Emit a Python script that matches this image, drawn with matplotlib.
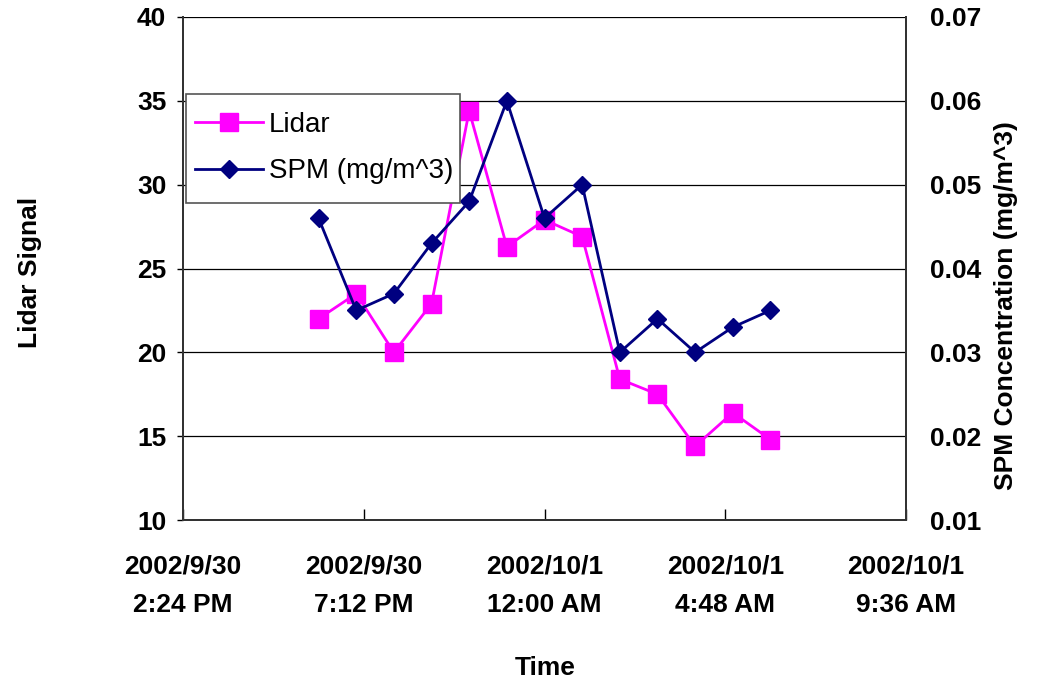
import matplotlib
matplotlib.use("Agg")
import matplotlib.pyplot as plt
from matplotlib.patches import Rectangle
import pandas as pd

plt.rcParams['font.family'] = ['Liberation Sans', 'DejaVu Sans']
plt.rcParams['font.weight'] = 'bold'

# hourly samples, evening of 2002/9/30 to morning of 2002/10/1
times = pd.to_datetime([
    '2002-09-30 18:00', '2002-09-30 19:00', '2002-09-30 20:00',
    '2002-09-30 21:00', '2002-09-30 22:00', '2002-09-30 23:00',
    '2002-10-01 00:00', '2002-10-01 01:00', '2002-10-01 02:00',
    '2002-10-01 03:00', '2002-10-01 04:00', '2002-10-01 05:00',
    '2002-10-01 06:00',
])
lidar = [22.0, 23.5, 20.0, 22.9, 34.4, 26.3, 27.9, 26.9, 18.4, 17.5, 14.4, 16.4, 14.8]
spm = [0.046, 0.035, 0.037, 0.043, 0.048, 0.060, 0.046, 0.050, 0.030, 0.034, 0.030, 0.033, 0.035]

tick_times = pd.to_datetime([
    '2002-09-30 14:24', '2002-09-30 19:12', '2002-10-01 00:00',
    '2002-10-01 04:48', '2002-10-01 09:36',
])
tick_labels = ['2002/9/30\n2:24 PM', '2002/9/30\n7:12 PM', '2002/10/1\n12:00 AM',
               '2002/10/1\n4:48 AM', '2002/10/1\n9:36 AM']
left_ticks = [10, 15, 20, 25, 30, 35, 40]
right_ticks = [0.01, 0.02, 0.03, 0.04, 0.05, 0.06, 0.07]

fs = 19

fig = plt.figure(figsize=(10.37, 6.85), dpi=100)
ax = fig.add_axes([183 / 1037, 1 - 520 / 685, 723 / 1037, 503 / 685])
ax2 = ax.twinx()

ax.plot(times, lidar, color='#FF00FF', lw=2, marker='s', ms=12.5,
        mec='#FF00FF', mfc='#FF00FF', label='Lidar', zorder=3)
ax2.plot(times, spm, color='#000080', lw=2, marker='D', ms=9.5,
         mec='#000080', mfc='#000080', label='SPM (mg/m^3)', zorder=3)

ax.set_xlim(tick_times[0], tick_times[-1])
ax.set_xticks(tick_times)
ax.set_xticklabels(tick_labels, fontsize=fs, linespacing=1.75)
ax.tick_params(axis='x', direction='in', length=8, width=1, pad=25)

ax.set_ylim(10, 40)
ax.set_yticks(left_ticks)
ax.tick_params(axis='y', direction='out', length=4, width=1, labelsize=fs, pad=8)
ax.grid(axis='y', color='black', lw=0.9)
ax.set_axisbelow(True)

ax2.set_ylim(0.01, 0.07)
ax2.set_yticks(right_ticks)
ax2.set_yticklabels([f'{t:.2f}' for t in right_ticks])
ax2.tick_params(axis='y', direction='in', length=0, labelsize=fs, pad=17)

for a in (ax, ax2):
    for s in a.spines.values():
        s.set_color('#333333')
        s.set_linewidth(1.4)
ax.spines['top'].set_visible(False)
ax2.spines['top'].set_visible(False)

fig.text(30 / 1037, 1 - 272 / 685, 'Lidar Signal', rotation=90, fontsize=fs,
         ha='center', va='center')
fig.text(1006 / 1037, 1 - 306 / 685, 'SPM Concentration (mg/m^3)', rotation=90,
         fontsize=fs, ha='center', va='center')
fig.text(545 / 1037, 1 - 668 / 685, 'Time', fontsize=fs, ha='center', va='center')

# legend box drawn separately so its padding can differ horizontally / vertically
box = Rectangle((0.0042, 0.630), 0.379, 0.2167, transform=ax2.transAxes,
                facecolor='white', edgecolor='#555555', lw=1.2, zorder=4)
ax2.add_patch(box)

handles = ax.get_lines()[:1] + ax2.get_lines()[:1]
leg = ax2.legend(handles, [h.get_label() for h in handles], loc='upper left',
                 bbox_to_anchor=(0.0166, 0.812), borderaxespad=0, borderpad=0,
                 prop={'size': 20, 'weight': 'normal'}, frameon=False,
                 handlelength=2.45, handletextpad=0.2, labelspacing=0.75)
leg.set_zorder(5)

fig.savefig('out.png', dpi=100)
